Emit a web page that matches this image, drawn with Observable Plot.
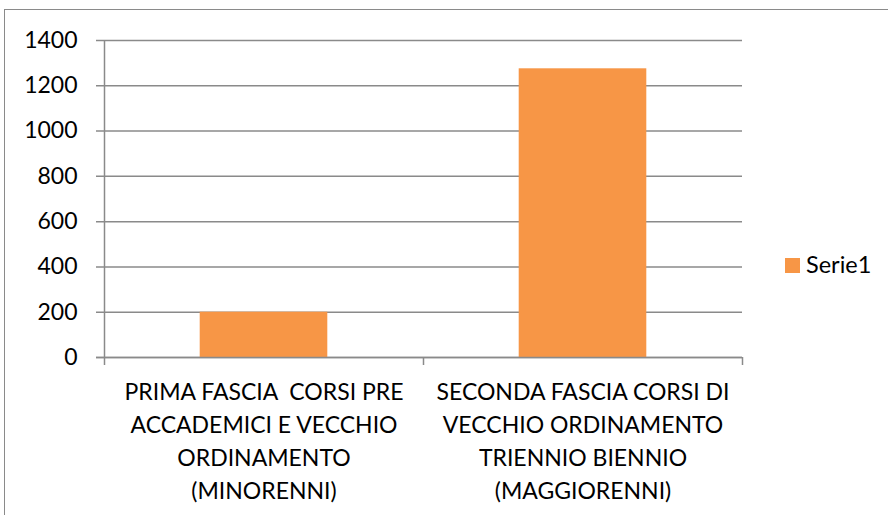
<!DOCTYPE html>
<html>
<head>
<meta charset="utf-8">
<script src="https://cdn.jsdelivr.net/npm/d3@7"></script>
<script src="https://cdn.jsdelivr.net/npm/@observablehq/plot@0.6"></script>
<style>
  body { margin: 0; background: #fff; }
  #wrap { position: relative; width: 888px; height: 515px; overflow: hidden; font-family: Lato, "Open Sans", sans-serif; }
  #border { position: absolute; left: 4px; top: 9px; width: 1200px; height: 1200px; border: 1.5px solid #8a8a8a; box-sizing: border-box; }
  #chart { position: absolute; left: 0; top: 0; }
  #chart svg { white-space: pre; }
  #legend { position: absolute; left: 785px; top: 252px; font-size: 23.5px; line-height: 24px; color: #000; }
  #legend .sw { position: absolute; left: 0; top: 6px; width: 15px; height: 15px; }
  #legend .lb { position: absolute; left: 21px; top: 0; white-space: nowrap; }
</style>
</head>
<body>
<div id="wrap">
  <div id="border"></div>
  <div id="chart"></div>
  <div id="legend"><div class="sw"></div><span class="lb"></span></div>
</div>
<script>
const categories = ["PRIMA", "SECONDA"];
const categoryLabels = [
  ["PRIMA FASCIA  CORSI PRE", "ACCADEMICI E VECCHIO", "ORDINAMENTO", "(MINORENNI)"],
  ["SECONDA FASCIA CORSI DI", "VECCHIO ORDINAMENTO", "TRIENNIO BIENNIO", "(MAGGIORENNI)"]
];
const values = [200, 1275];
const seriesName = "Serie1";
const yTicks = [0, 200, 400, 600, 800, 1000, 1200, 1400];

const barColor = "#F79646";
const gridColor = "#8a8a8a";
const W = 888, H = 515;
const mL = 104, mR = 146, mT = 40, mB = 158;
const pInner = 0.6, pOuter = 0.3;
const step = (W - mL - mR) / (categories.length - pInner + 2 * pOuter);

const data = categories.map((c, i) => ({cat: c, value: values[i]}));
const labelOf = new Map(categories.map((c, i) => [c, categoryLabels[i].join("\n")]));

const chart = Plot.plot({
  width: W, height: H,
  marginLeft: mL, marginRight: mR, marginTop: mT, marginBottom: mB,
  style: {fontFamily: "Lato, 'Open Sans', sans-serif", color: "#000", background: "transparent"},
  x: {type: "band", domain: categories, paddingInner: pInner, paddingOuter: pOuter, round: false, label: null},
  y: {domain: [0, 1400], label: null},
  marks: [
    Plot.ruleY(yTicks, {y: d => d, stroke: gridColor, strokeWidth: 1.5, insetLeft: -8}),
    Plot.barY(data, {x: "cat", y: "value", fill: barColor}),
    Plot.ruleY([0], {y: d => d, stroke: gridColor, strokeWidth: 1.5, insetLeft: -8}),
    Plot.ruleX([categories[0]], {x: d => d, y1: 1400, y2: 0, dx: -step / 2, insetBottom: -8, stroke: gridColor, strokeWidth: 1.5}),
    Plot.ruleX(categories.slice(1), {x: d => d, y1: 0, y2: 0, dx: -step / 2, insetBottom: -8, stroke: gridColor, strokeWidth: 1.5}),
    Plot.ruleX([categories[categories.length - 1]], {x: d => d, y1: 0, y2: 0, dx: step / 2, insetBottom: -8, stroke: gridColor, strokeWidth: 1.5}),
    Plot.axisY(yTicks, {tickSize: 0, tickPadding: 27, fontSize: 23, label: null, fill: "#000", tickFormat: d => String(d)}),
    Plot.axisX({tickSize: 0, tickPadding: 19, fontSize: 23, lineHeight: 33 / 23, label: null, fill: "#000", tickFormat: d => labelOf.get(d)})
  ]
});
document.getElementById("chart").appendChild(chart);
document.querySelector("#legend .sw").style.background = barColor;
document.querySelector("#legend .lb").textContent = seriesName;
</script>
</body>
</html>
